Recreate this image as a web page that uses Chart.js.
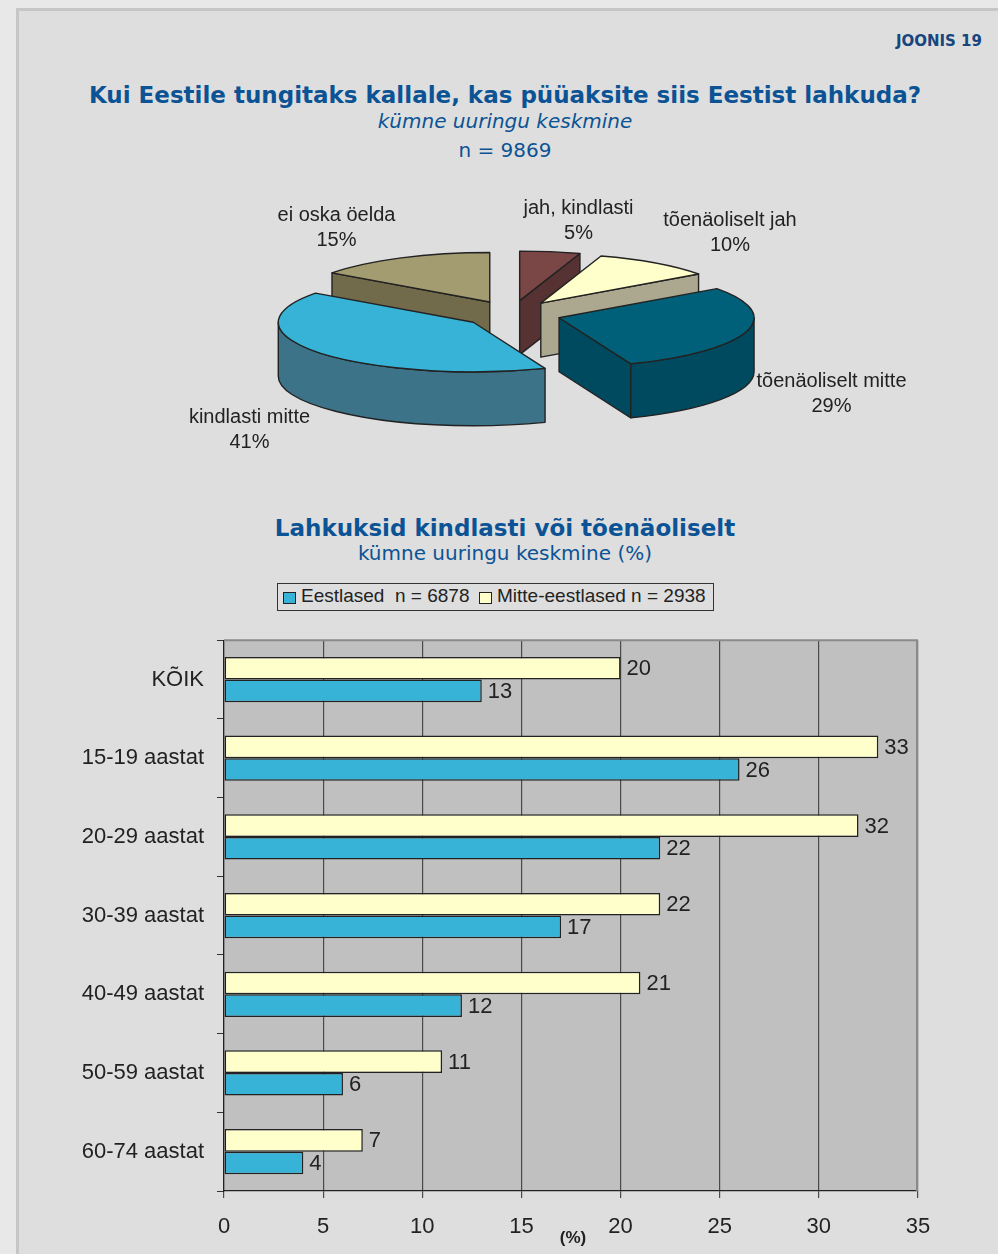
<!DOCTYPE html>
<html lang="et">
<head>
<meta charset="utf-8">
<title>Joonis 19</title>
<script src="https://cdn.jsdelivr.net/npm/chart.js@4.4.1/dist/chart.umd.min.js"></script>
<style>
  html, body { margin: 0; padding: 0; }
  body { width: 998px; height: 1254px; background: #e8e8e8; position: relative; overflow: hidden;
         font-family: "Liberation Sans", Arial, sans-serif; }
  #panel { position: absolute; left: 16px; top: 8px; width: 1000px; height: 1270px; background: #dedede;
           border-left: 3px solid #c6c6c6; border-top: 3px solid #c6c6c6; }
  .t { position: absolute; left: 0; width: 1010px; text-align: center; color: #0b5394;
       font-family: "DejaVu Sans", Verdana, sans-serif; white-space: nowrap; }
  .big { font-size: 23px; line-height: 28px; font-weight: bold; }
  .sub { font-size: 20px; line-height: 24px; }
  #joonis { position: absolute; left: 0; width: 982px; top: 32px; text-align: right; color: #17467f;
            font: bold 15px/18px "DejaVu Sans", Verdana, sans-serif; }
  #pieBox { position: absolute; left: 0; top: 119px; width: 998px; height: 390px; }
  #barBox { position: absolute; left: 0; top: 614px; width: 998px; height: 640px; }
  #legend { position: absolute; left: 277px; top: 583px; width: 435px; height: 26px; border: 1px solid #333; }
  .sw { position: absolute; width: 13px; height: 12px; box-sizing: border-box; border: 1px solid #222; top: 592px; }
  .lt { position: absolute; top: 585px; font-size: 19px; line-height: 22px; color: #222; white-space: pre; }
  #pct { position: absolute; left: 543px; width: 60px; top: 1228px; text-align: center; color: #222;
         font: bold 17px/20px "Liberation Sans", Arial, sans-serif; }
</style>
</head>
<body>
<div id="panel"></div>
<div id="joonis">JOONIS 19</div>
<div class="t big" style="top:81px">Kui Eestile tungitaks kallale, kas püüaksite siis Eestist lahkuda?</div>
<div class="t sub" style="top:109px;font-style:italic">kümne uuringu keskmine</div>
<div class="t sub" style="top:138px">n = 9869</div>

<div id="pieBox"><canvas id="pieChart"></canvas></div>

<div class="t big" style="top:514px">Lahkuksid kindlasti või tõenäoliselt</div>
<div class="t sub" style="top:541px">kümne uuringu keskmine (%)</div>

<div id="legend"></div>
<div class="sw" style="left:283px;background:#36b3d7"></div>
<div class="lt" style="left:301px">Eestlased  n = 6878</div>
<div class="sw" style="left:479px;background:#ffffcc"></div>
<div class="lt" style="left:497px">Mitte-eestlased n = 2938</div>

<div id="barBox"><canvas id="barChart"></canvas></div>
<div id="pct">(%)</div>

<script>
// pie: kas lahkuks
const pieLabels = ['jah, kindlasti', 'tõenäoliselt jah', 'tõenäoliselt mitte', 'kindlasti mitte', 'ei oska öelda'];
const pieValues = [5, 10, 29, 41, 15];

// bars: lahkuksid kindlasti või tõenäoliselt (%)
const ageGroups = ['KÕIK', '15-19 aastat', '20-29 aastat', '30-39 aastat', '40-49 aastat', '50-59 aastat', '60-74 aastat'];
const eestlased = [13, 26, 22, 17, 12, 6, 4];
const mitteEestlased = [20, 33, 32, 22, 21, 11, 7];
const xMin = 0, xMax = 35, xStep = 5;

const FONT = '"Liberation Sans", Arial, sans-serif';
Chart.defaults.font.family = FONT;

const topColors = ['#7b4646', '#ffffcc', '#006079', '#36b3d7', '#a39c70'];
const sideColors = ['#563232', '#aca78f', '#004a5f', '#3c7388', '#716a4b'];

// draws the pie as an exploded, tilted 3D pie using the arcs chart.js laid out
const pie3d = {
  id: 'pie3d',
  beforeDatasetsDraw(chart, args, opts) {
    const ctx = chart.ctx;
    const arcs = chart.getDatasetMeta(0).data;
    const cx = arcs[0].x, cy = arcs[0].y;
    const rx = arcs[0].outerRadius, ry = rx * opts.tilt;
    const depth = opts.depth;
    const slices = arcs.map((a, i) => {
      const mid = (a.startAngle + a.endAngle) / 2;
      return {
        i, a0: a.startAngle, a1: a.endAngle, mid,
        vx: cx + opts.explode * Math.cos(mid),
        vy: cy + opts.explodeY * Math.sin(mid)
      };
    });
    slices.sort((p, q) => Math.sin(p.mid) - Math.sin(q.mid));

    ctx.save();
    ctx.lineWidth = 1.4;
    ctx.lineJoin = 'round';
    ctx.strokeStyle = '#222';

    const wall = (s, a) => {
      const px = s.vx + rx * Math.cos(a), py = s.vy + ry * Math.sin(a);
      ctx.beginPath();
      ctx.moveTo(s.vx, s.vy);
      ctx.lineTo(px, py);
      ctx.lineTo(px, py + depth);
      ctx.lineTo(s.vx, s.vy + depth);
      ctx.closePath();
      ctx.fill();
      ctx.stroke();
    };

    slices.forEach(s => {
      ctx.fillStyle = sideColors[s.i];
      if (Math.cos(s.a0) < 0) wall(s, s.a0);
      if (Math.cos(s.a1) > 0) wall(s, s.a1);
      // outer rim, front half only
      for (let n = -1; n <= 1; n++) {
        const lo = Math.max(s.a0, 2 * Math.PI * n);
        const hi = Math.min(s.a1, 2 * Math.PI * n + Math.PI);
        if (hi <= lo) continue;
        ctx.beginPath();
        ctx.ellipse(s.vx, s.vy, rx, ry, 0, lo, hi);
        ctx.lineTo(s.vx + rx * Math.cos(hi), s.vy + ry * Math.sin(hi) + depth);
        ctx.ellipse(s.vx, s.vy + depth, rx, ry, 0, hi, lo, true);
        ctx.closePath();
        ctx.fill();
        ctx.stroke();
      }
      ctx.fillStyle = topColors[s.i];
      ctx.beginPath();
      ctx.moveTo(s.vx, s.vy);
      ctx.ellipse(s.vx, s.vy, rx, ry, 0, s.a0, s.a1);
      ctx.closePath();
      ctx.fill();
      ctx.stroke();
    });

    // labels
    ctx.fillStyle = '#222';
    ctx.font = '20px ' + FONT;
    ctx.textAlign = 'center';
    ctx.textBaseline = 'alphabetic';
    const vals = chart.data.datasets[0].data;
    chart.data.labels.forEach((lab, i) => {
      const [dx, dy] = opts.labelPos[i];
      ctx.fillText(lab, cx + dx, cy + dy);
      ctx.fillText(vals[i] + '%', cx + dx, cy + dy + 24.5);
    });
    ctx.restore();
    return false;
  }
};

new Chart(document.getElementById('pieChart'), {
  type: 'pie',
  data: {
    labels: pieLabels,
    datasets: [{ data: pieValues, backgroundColor: topColors, borderWidth: 0 }]
  },
  options: {
    responsive: true,
    maintainAspectRatio: false,
    animation: false,
    events: [],
    radius: 195,
    layout: { padding: { left: 26 } },
    plugins: {
      legend: { display: false },
      tooltip: { enabled: false },
      pie3d: {
        tilt: 0.254, depth: 54, explode: 49, explodeY: 13.5,
        labelPos: [[66.5, -100], [218, -88], [319.5, 73], [-262.5, 109], [-175.5, -93]]
      }
    }
  },
  plugins: [pie3d]
});

// grey plot area with lighter top/right frame
const plotFrame = {
  id: 'plotFrame',
  beforeDraw(chart) {
    const { ctx, chartArea: a } = chart;
    ctx.save();
    ctx.fillStyle = '#c0c0c0';
    ctx.fillRect(a.left, a.top, a.right - a.left, a.bottom - a.top);
    ctx.restore();
  },
  beforeDatasetsDraw(chart) {
    const { ctx, chartArea: a } = chart;
    ctx.save();
    ctx.strokeStyle = '#8a8a8a';
    ctx.lineWidth = 2;
    ctx.beginPath();
    ctx.moveTo(a.left, a.top);
    ctx.lineTo(a.right - 1, a.top);
    ctx.lineTo(a.right - 1, a.bottom);
    ctx.stroke();
    ctx.restore();
  }
};

const barValues = {
  id: 'barValues',
  afterDatasetsDraw(chart) {
    const ctx = chart.ctx;
    ctx.save();
    ctx.font = '22px ' + FONT;
    ctx.fillStyle = '#222';
    ctx.textAlign = 'left';
    ctx.textBaseline = 'middle';
    chart.data.datasets.forEach((ds, di) => {
      chart.getDatasetMeta(di).data.forEach((bar, i) => {
        ctx.fillText(ds.data[i], bar.x + 6, bar.y + 1);
      });
    });
    ctx.restore();
  }
};

new Chart(document.getElementById('barChart'), {
  type: 'bar',
  data: {
    labels: ageGroups,
    datasets: [
      { label: 'Mitte-eestlased n = 2938', data: mitteEestlased, backgroundColor: '#ffffcc' },
      { label: 'Eestlased  n = 6878', data: eestlased, backgroundColor: '#36b3d7' }
    ]
  },
  options: {
    indexAxis: 'y',
    responsive: true,
    maintainAspectRatio: false,
    animation: false,
    events: [],
    layout: { padding: { top: 0, right: 80, left: 0, bottom: 0 } },
    datasets: {
      bar: { categoryPercentage: 0.575, barPercentage: 1, borderColor: '#222', borderWidth: 1.5, borderSkipped: false }
    },
    plugins: { legend: { display: false }, tooltip: { enabled: false } },
    scales: {
      x: {
        min: xMin, max: xMax,
        ticks: { stepSize: xStep, color: '#222', font: { size: 22 }, padding: 16 },
        grid: { color: '#4a4a4a', lineWidth: 1.2, tickLength: 7 },
        border: { color: '#222', width: 1.2 },
        afterFit(s) { s.height = 63; }
      },
      y: {
        ticks: { color: '#222', font: { size: 22 }, padding: 13 },
        grid: { drawOnChartArea: false, color: '#333', tickLength: 7 },
        border: { color: '#222', width: 1.2 },
        afterFit(s) { s.width = 224; }
      }
    }
  },
  plugins: [plotFrame, barValues]
});
</script>
</body>
</html>
